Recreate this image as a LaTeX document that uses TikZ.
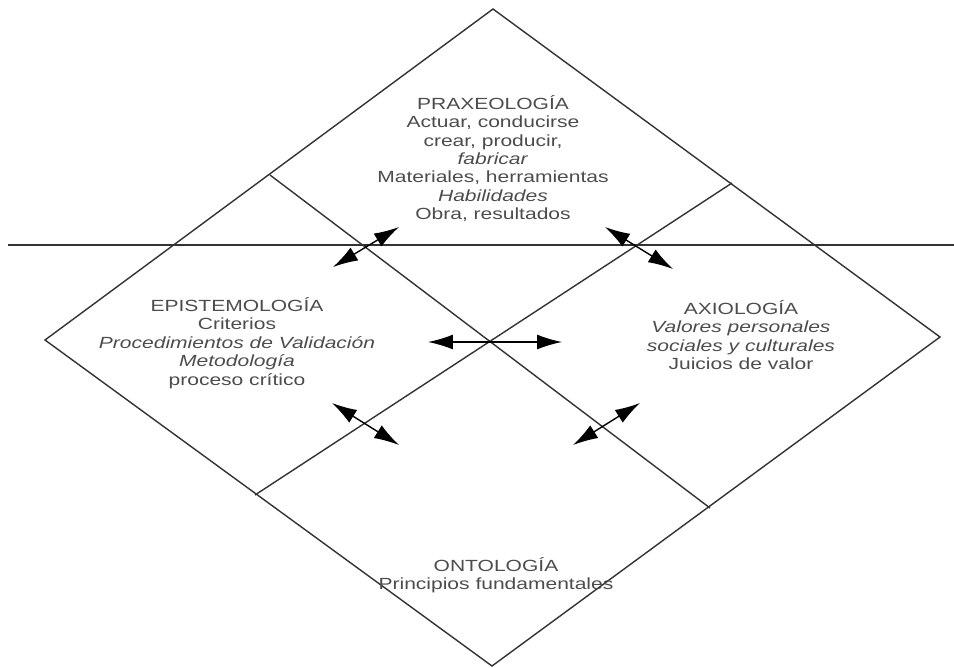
\documentclass[tikz,border=0pt]{standalone}
\usepackage{fontspec}
\newfontfamily\diagfont[FakeStretch=1.3]{Liberation Sans}
\usetikzlibrary{arrows.meta}
\definecolor{LineClr}{rgb}{0.2,0.2,0.2}
\definecolor{TextClr}{rgb}{0.3,0.3,0.3}

\begin{document}
\begin{tikzpicture}[x=0.02cm,y=-0.02cm,
  area/.style={align=center,text=TextClr,inner sep=0pt,
    font=\diagfont\fontsize{9.2}{10.5}\selectfont},
  frame/.style={line width=0.8pt,color=LineClr},
  link/.style={line width=0.8pt,color=black,
    {Latex[length=5mm,width=3mm]}-{Latex[length=5mm,width=3mm]}}]
\useasboundingbox (0,0) rectangle (954,667);

% corners of the big square and the inner crossing
\foreach \x/\y/\n in {493/9/T,45/340/L,940/337/R,492/666/B,
  270/175/ul,732/183/ur,255/495/ll,710/508/lr,8/245/hl,954/245/hr}
  \coordinate (\n) at (\x,\y);

% ends of the arrows
\foreach \x/\y/\n in {333/267/a,399/227/a',605/227/b,673/269/b',
  428/342/c,562/342/c',332/403/d,399/445/d',573/445/e,640/403/e'}
  \coordinate (\n) at (\x,\y);

\draw[frame] (T) -- (R) -- (B) -- (L) -- cycle;
\draw[frame] (ul) -- (lr);
\draw[frame] (ur) -- (ll);
\draw[frame] (hl) -- (hr);

\draw[link] (a) -- (a');
\draw[link] (b) -- (b');
\draw[link] (c) -- (c');
\draw[link] (d) -- (d');
\draw[link] (e) -- (e');

\node[area] (prax) at (493,158.5) {PRAXEOLOGÍA\\Actuar, conducirse\\crear, producir,\\
  \textit{fabricar}\\Materiales, herramientas\\\textit{Habilidades}\\Obra, resultados};
\node[area] (epis) at (237,343) {EPISTEMOLOGÍA\\Criterios\\
  \textit{Procedimientos de Validación}\\\textit{Metodología}\\proceso crítico};
\node[area] (axio) at (741,335) {AXIOLOGÍA\\\textit{Valores personales}\\
  \textit{sociales y culturales}\\Juicios de valor};
\node[area] (onto) at (496,575) {ONTOLOGÍA\\Principios fundamentales};

\end{tikzpicture}
\end{document}
